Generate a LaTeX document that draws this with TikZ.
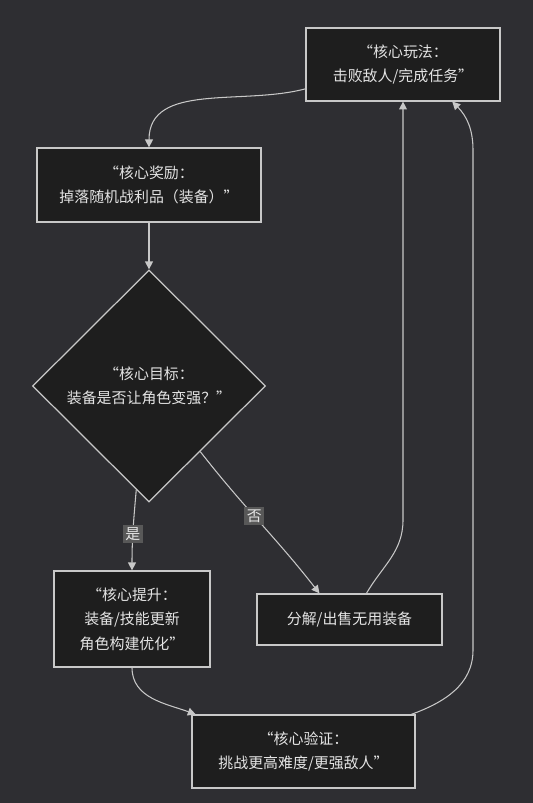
\documentclass[tikz,border=0pt]{standalone}
\usepackage{fontspec}
\setmainfont{Noto Sans CJK SC}
\usetikzlibrary{arrows.meta,shapes.geometric}
\definecolor{bgdark}{RGB}{46,46,50}
\definecolor{boxfill}{RGB}{30,30,30}
\definecolor{boxline}{RGB}{200,200,200}
\definecolor{txtlight}{RGB}{228,228,228}
\definecolor{tagfill}{RGB}{88,88,88}

\begin{document}
\begin{tikzpicture}[x=0.02cm,y=0.02cm,
  stage/.style={draw=boxline,fill=boxfill,line width=0.7pt,text=txtlight,align=center,inner sep=0pt,font=\fontsize{8.5}{14}\selectfont},
  check/.style={stage,diamond,aspect=1},
  flow/.style={draw=boxline,line width=0.6pt,-{Triangle[length=4.5pt,width=4.5pt]}},
  tag/.style={fill=tagfill,text=txtlight,inner sep=1.5pt,font=\fontsize{8.5}{10}\selectfont}]
  \fill[bgdark] (0,0) rectangle (533,803);
  \useasboundingbox (0,0) rectangle (533,803);
  % Loop stages
  \node[stage,minimum width=3.88cm,minimum height=1.46cm] (play) at (403,738.5) {“核心玩法：\\击败敌人/完成任务”};
  \node[stage,minimum width=4.48cm,minimum height=1.48cm] (loot) at (149,618) {“核心奖励：\\掉落随机战利品（装备）”};
  \node[check,minimum width=4.66cm,minimum height=4.64cm] (goal) at (149,417) {“核心目标：\\装备是否让角色变强？”};
  \node[stage,minimum width=3.12cm,minimum height=1.92cm] (boost) at (132,184) {“核心提升：\\装备/技能更新\\角色构建优化”};
  \node[stage,minimum width=3.7cm,minimum height=1.02cm] (salvage) at (349.5,183.5) {分解/出售无用装备};
  \node[stage,minimum width=4.46cm,minimum height=1.46cm] (test) at (303.5,51.5) {“核心验证：\\挑战更高难度/更强敌人”};
  % Bends of the return lines
  \coordinate (backmid) at (403,283);
  \coordinate (backlow) at (473,153);
  \coordinate (backtop) at (473,653);
  % Flow
  \draw[flow] (play.194) to[out=195,in=90] (loot.north);
  \draw[flow] (loot) -- (goal);
  \draw[flow] (goal.263) to[out=265,in=90] node[tag,pos=0.55]{是} (boost.north);
  \draw[flow] (goal.308) to[out=-52,in=128] node[tag,pos=0.45]{否} (salvage.139);
  \draw[flow] (salvage.57) to[out=60,in=-90] (backmid) -- (play.south);
  \draw[flow] (boost.south) to[out=-90,in=160] (test.161);
  \draw[flow] (test.19) to[out=20,in=-90] (backlow) -- (backtop) to[out=90,in=-45] (play.323);
\end{tikzpicture}
\end{document}
